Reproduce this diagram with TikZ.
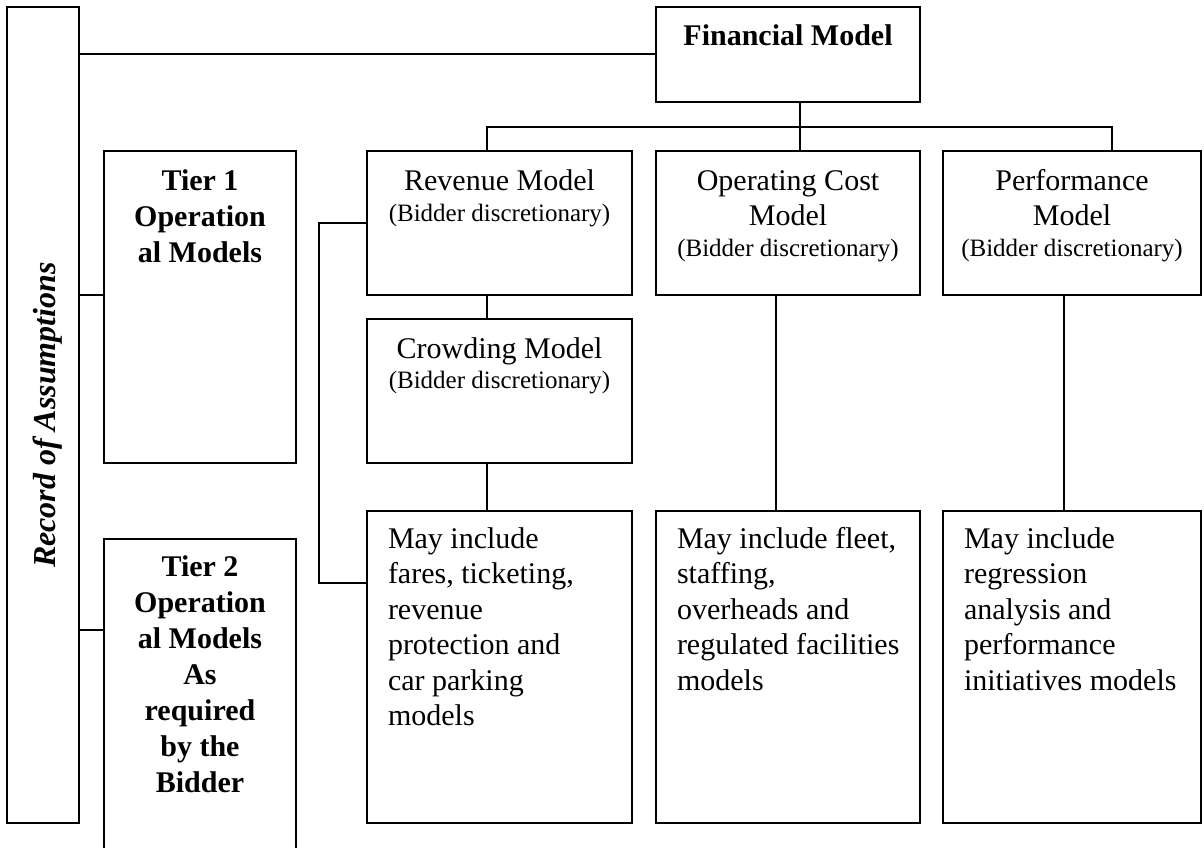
\documentclass[tikz,border=0pt]{standalone}
\usepackage{fontspec}
\setmainfont{Liberation Serif}
\newcommand{\mainsz}{\fontsize{30}{35.5}\selectfont}
\newcommand{\smallsz}{\fontsize{25}{30}\selectfont}
\tikzset{
  bx/.style={draw, line width=1.8pt, inner sep=0pt, outer sep=0pt},
  ln/.style={line width=1.8pt},
  lbl/.style={inner sep=0pt, outer sep=0pt, anchor=base},
}
\begin{document}
\begin{tikzpicture}[x=1pt,y=-1pt]
\useasboundingbox (0,0) rectangle (1204,847);
\clip (0,0) rectangle (1204,847);
% boxes
\node[bx, minimum width=72pt,  minimum height=816pt] (rec)   at (43,415) {};
\node[bx, minimum width=264pt, minimum height=95pt]  (fin)   at (788,54.5) {};
\node[bx, minimum width=192pt, minimum height=312pt] (t1)    at (200,307) {};
\node[bx, minimum width=192pt, minimum height=331pt] (t2)    at (200,704.5) {};
\node[bx, minimum width=265pt, minimum height=144pt] (rev)   at (499.5,223) {};
\node[bx, minimum width=265pt, minimum height=144pt] (crowd) at (499.5,391) {};
\node[bx, minimum width=264pt, minimum height=144pt] (op)    at (788,223) {};
\node[bx, minimum width=258pt, minimum height=144pt] (perf)  at (1072,223) {};
\node[bx, minimum width=265pt, minimum height=312pt] (lrev)  at (499.5,667) {};
\node[bx, minimum width=264pt, minimum height=312pt] (lop)   at (788,667) {};
\node[bx, minimum width=258pt, minimum height=312pt] (lperf) at (1072,667) {};
% texts
\node[lbl, rotate=90] (trec) at (55,415) {\fontsize{32}{38}\selectfont\bfseries\itshape Record of Assumptions};
\node[lbl] (tfin) at (788,45) {\mainsz\bfseries Financial Model};
\node[lbl] (tt1) at (200,190) {\parbox[t]{190pt}{\fontsize{30}{36}\selectfont\bfseries\centering Tier 1\\Operation\\al Models}};
\node[lbl] (tt2) at (200,576) {\parbox[t]{190pt}{\fontsize{30}{36}\selectfont\bfseries\centering Tier 2\\Operation\\al Models\\As\\required\\by the\\Bidder}};
\node[lbl] (trev) at (499.5,190) {\mainsz Revenue Model};
\node[lbl] (srev) at (499.5,221) {\smallsz (Bidder discretionary)};
\node[lbl] (tcrowd) at (499.5,358) {\mainsz Crowding Model};
\node[lbl] (scrowd) at (499.5,388) {\smallsz (Bidder discretionary)};
\node[lbl] (top) at (788,190) {\parbox[t]{260pt}{\mainsz\centering Operating Cost\\Model}};
\node[lbl] (sop) at (788,256) {\smallsz (Bidder discretionary)};
\node[lbl] (tperf) at (1072,190) {\parbox[t]{256pt}{\mainsz\centering Performance\\Model}};
\node[lbl] (sperf) at (1072,256) {\smallsz (Bidder discretionary)};
\node[lbl, anchor=base west] (tlrev) at (388,548) {\parbox[t]{240pt}{\mainsz\raggedright May include\\fares, ticketing,\\revenue\\protection and\\car parking\\models}};
\node[lbl, anchor=base west] (tlop) at (677,548) {\parbox[t]{240pt}{\mainsz\raggedright May include fleet,\\staffing,\\overheads and\\regulated facilities\\models}};
\node[lbl, anchor=base west] (tlperf) at (964,548) {\parbox[t]{236pt}{\mainsz\raggedright May include\\regression\\analysis and\\performance\\initiatives models}};
% connectors
\coordinate (busL) at (487,127);
\coordinate (busR) at (1112,127);
\draw[ln] (rec.east |- 0,54) -- (fin.west |- 0,54);
\draw[ln] (fin.south -| 800,0) -- (op.north -| 800,0);
\draw[ln] (rev.north -| busL) -- (busL) -- (busR) -- (perf.north -| busR);
\draw[ln] (rev.south -| 487,0) -- (crowd.north -| 487,0);
\draw[ln] (crowd.south -| 487,0) -- (lrev.north -| 487,0);
\draw[ln] (op.south -| 776,0) -- (lop.north -| 776,0);
\draw[ln] (perf.south -| 1064,0) -- (lperf.north -| 1064,0);
\draw[ln] (rev.west |- 0,223) -- (319,223) -- (319,583) -- (lrev.west |- 0,583);
\draw[ln] (rec.east |- 0,295) -- (t1.west |- 0,295);
\draw[ln] (rec.east |- 0,630) -- (t2.west |- 0,630);
\end{tikzpicture}
\end{document}
